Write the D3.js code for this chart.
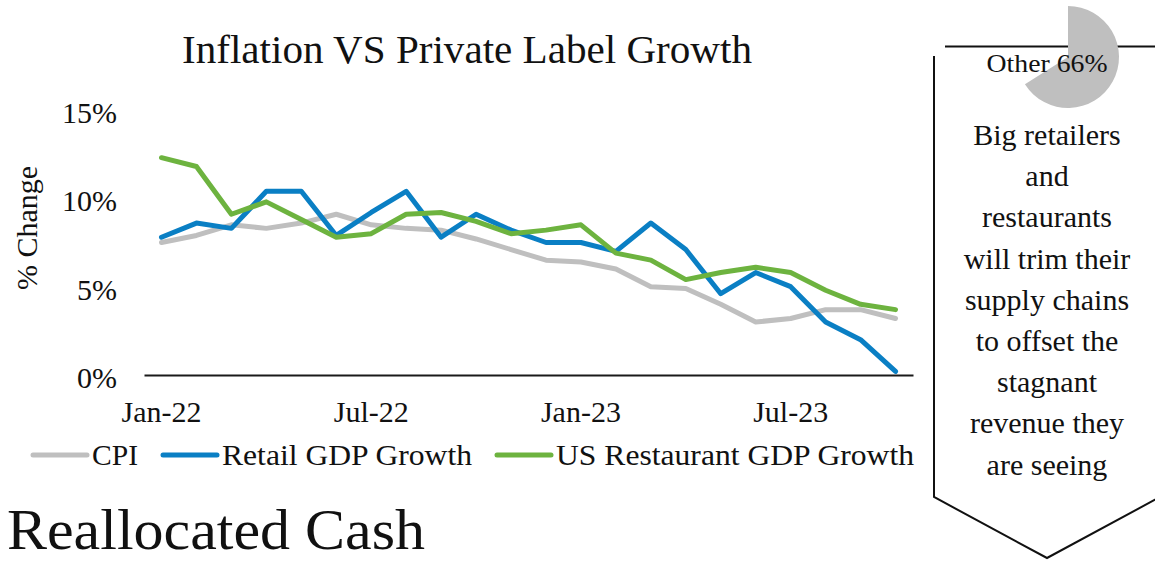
<!DOCTYPE html>
<html>
<head>
<meta charset="utf-8">
<script src="https://cdn.jsdelivr.net/npm/d3@7"></script>
<style>
  html, body { margin: 0; padding: 0; background: #fff; }
  svg { display: block; }
  text { font-family: "Liberation Serif", "DejaVu Serif", serif; fill: #111; }
</style>
</head>
<body>
<svg id="chart" width="1155" height="562"></svg>
<script>
// Monthly categories, Jan-22 through Oct-23
const months = ["Jan-22","Feb-22","Mar-22","Apr-22","May-22","Jun-22","Jul-22","Aug-22","Sep-22","Oct-22","Nov-22","Dec-22",
                "Jan-23","Feb-23","Mar-23","Apr-23","May-23","Jun-23","Jul-23","Aug-23","Sep-23","Oct-23"];
const tickMonths = ["Jan-22","Jul-22","Jan-23","Jul-23"];
const yTicks = [0, 5, 10, 15];

// Year-over-year % change
const cpi        = [7.5,7.9,8.5,8.3,8.6,9.1,8.5,8.3,8.2,7.7,7.1,6.5,6.4,6.0,5.0,4.9,4.0,3.0,3.2,3.7,3.7,3.2];
const retail     = [7.8,8.6,8.3,10.4,10.4,7.9,9.2,10.4,7.8,9.1,8.2,7.5,7.5,7.0,8.6,7.1,4.6,5.8,5.0,3.0,2.0,0.2];
const restaurant = [12.3,11.8,9.1,9.8,8.8,7.8,8.0,9.1,9.2,8.7,8.0,8.2,8.5,6.9,6.5,5.4,5.8,6.1,5.8,4.8,4.0,3.7];

const seriesNames  = ["CPI", "Retail GDP Growth", "US Restaurant GDP Growth"];
const seriesColors = ["#BFBFBF", "#0A7FC4", "#6DB33F"];

// Share shown in the callout pie
const pieLabels = ["Other", ""];
const pieValues = [66, 34];

// Callout text lines
const calloutLines = ["Big retailers","and","restaurants","will trim their","supply chains","to offset the","stagnant","revenue they","are seeing"];

const svg = d3.select("#chart");

const x = d3.scaleBand().domain(months).range([144, 913]).padding(0);
const y = d3.scaleLinear().domain([0, 15]).range([375, 110]);
const cx = m => x(m) + x.bandwidth() / 2;

// Title
svg.append("text")
  .attr("x", 467).attr("y", 63)
  .attr("text-anchor", "middle")
  .style("font-size", "40px")
  .attr("textLength", 570).attr("lengthAdjust", "spacingAndGlyphs")
  .text("Inflation VS Private Label Growth");

// Y axis (labels only)
const yAxis = svg.append("g")
  .attr("transform", "translate(144,0)")
  .call(d3.axisLeft(y).tickValues(yTicks).tickSize(0).tickPadding(27).tickFormat(d => d + "%"));
yAxis.select(".domain").remove();
yAxis.selectAll("text")
  .attr("dy", "0.42em")
  .style("font-size", "30px")
  .style("font-family", "Liberation Serif, serif")
  .attr("fill", "#111");

// Y axis title
svg.append("text")
  .attr("transform", "translate(37,228) rotate(-90)")
  .attr("text-anchor", "middle")
  .style("font-size", "30px")
  .text("% Change");

// X axis
const xAxis = svg.append("g")
  .attr("transform", "translate(0,375)")
  .call(d3.axisBottom(x).tickValues(tickMonths).tickSize(0).tickPadding(26));
xAxis.select(".domain").attr("stroke", "#1a1a1a").attr("stroke-width", 2);
xAxis.selectAll("text")
  .style("font-size", "30px")
  .style("font-family", "Liberation Serif, serif")
  .attr("fill", "#111");

// Series lines
const line = d3.line().x((d, i) => cx(months[i])).y(d => y(d));
const allSeries = [cpi, retail, restaurant];
svg.append("g").selectAll("path")
  .data(allSeries)
  .join("path")
  .attr("d", d => line(d))
  .attr("fill", "none")
  .attr("stroke", (d, i) => seriesColors[i])
  .attr("stroke-width", 5)
  .attr("stroke-linejoin", "round")
  .attr("stroke-linecap", "round");

// Legend
const legendX = [33, 163, 497];
const legendTextWidth = [46, 250, 358];
const legend = svg.append("g").selectAll("g")
  .data(seriesNames)
  .join("g")
  .attr("transform", (d, i) => `translate(${legendX[i]},455)`);
legend.append("line")
  .attr("x1", 0).attr("x2", 54).attr("y1", 0).attr("y2", 0)
  .attr("stroke", (d, i) => seriesColors[i])
  .attr("stroke-width", 5)
  .attr("stroke-linecap", "round");
legend.append("text")
  .attr("x", 59).attr("y", 10)
  .style("font-size", "30px")
  .attr("textLength", (d, i) => legendTextWidth[i])
  .attr("lengthAdjust", "spacingAndGlyphs")
  .text(d => d);

// Section heading
svg.append("text")
  .attr("x", 7).attr("y", 549)
  .style("font-size", "56px")
  .attr("textLength", 418).attr("lengthAdjust", "spacingAndGlyphs")
  .text("Reallocated Cash");

// Callout chevron
svg.append("path")
  .attr("d", "M945,46.5 L1160,46.5")
  .attr("fill", "none").attr("stroke", "#111").attr("stroke-width", 2);
svg.append("path")
  .attr("d", "M934,56 L934,497 L1047,558 L1160,497")
  .attr("fill", "none").attr("stroke", "#111").attr("stroke-width", 2);

// Pie slice
const pie = d3.pie().sort(null)(pieValues);
const arc = d3.arc().innerRadius(0).outerRadius(51);
svg.append("g")
  .attr("transform", "translate(1068,57)")
  .selectAll("path")
  .data(pie)
  .join("path")
  .attr("d", arc)
  .attr("fill", (d, i) => i === 0 ? "#BFBFBF" : "none");

svg.append("text")
  .attr("x", 1047).attr("y", 72)
  .attr("text-anchor", "middle")
  .style("font-size", "25px")
  .attr("textLength", 121).attr("lengthAdjust", "spacingAndGlyphs")
  .text(`${pieLabels[0]} ${pieValues[0]}%`);

// Callout text
svg.append("g").selectAll("text")
  .data(calloutLines)
  .join("text")
  .attr("x", 1047)
  .attr("y", (d, i) => 145 + i * 41.2)
  .attr("text-anchor", "middle")
  .style("font-size", "30px")
  .text(d => d);
</script>
</body>
</html>
